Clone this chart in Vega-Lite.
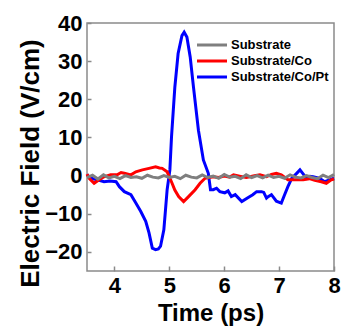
{
  "$schema": "https://vega.github.io/schema/vega-lite/v6.json",
  "width": 247,
  "height": 248,
  "autosize": "none",
  "padding": {"left": 87, "top": 23, "right": 9, "bottom": 58},
  "background": "white",
  "config": {
    "view": {"stroke": "#8a8a8a", "strokeWidth": 1.5},
    "font": "Liberation Sans"
  },
  "datasets": {
    "pt": [
      {"t":3.5,"v":0.3},{"t":3.57,"v":-0.7},{"t":3.69,"v":-1.1},{"t":3.81,"v":-1.6},{"t":3.92,"v":-1.4},{"t":4.03,"v":-1.6},{"t":4.09,"v":-2.9},{"t":4.18,"v":-4.2},{"t":4.3,"v":-5.0},{"t":4.39,"v":-7.2},{"t":4.48,"v":-9.4},{"t":4.57,"v":-12.0},{"t":4.63,"v":-15.0},{"t":4.69,"v":-19.0},{"t":4.75,"v":-19.4},{"t":4.8,"v":-19.2},{"t":4.84,"v":-18.5},{"t":4.9,"v":-14.2},{"t":4.93,"v":-9.0},{"t":4.96,"v":-3.7},{"t":5.01,"v":1.5},{"t":5.04,"v":10.2},{"t":5.1,"v":23.1},{"t":5.16,"v":32.0},{"t":5.23,"v":36.7},{"t":5.27,"v":37.6},{"t":5.32,"v":36.3},{"t":5.38,"v":31.1},{"t":5.44,"v":23.2},{"t":5.53,"v":11.9},{"t":5.62,"v":4.1},{"t":5.71,"v":0.6},{"t":5.75,"v":-3.7},{"t":5.8,"v":-3.7},{"t":5.86,"v":-3.3},{"t":5.92,"v":-4.2},{"t":6.01,"v":-4.5},{"t":6.07,"v":-4.0},{"t":6.13,"v":-5.5},{"t":6.2,"v":-5.0},{"t":6.32,"v":-6.8},{"t":6.43,"v":-5.8},{"t":6.52,"v":-5.0},{"t":6.59,"v":-4.2},{"t":6.68,"v":-4.2},{"t":6.72,"v":-4.4},{"t":6.77,"v":-5.9},{"t":6.8,"v":-5.5},{"t":6.86,"v":-5.0},{"t":6.95,"v":-6.7},{"t":7.04,"v":-7.2},{"t":7.1,"v":-5.0},{"t":7.16,"v":-2.9},{"t":7.23,"v":-0.7},{"t":7.32,"v":0.6},{"t":7.38,"v":1.5},{"t":7.43,"v":0.6},{"t":7.5,"v":-0.7},{"t":7.56,"v":-0.2},{"t":7.62,"v":-0.3},{"t":7.74,"v":-0.7},{"t":7.83,"v":-1.6},{"t":7.92,"v":-1.1},{"t":8.0,"v":-0.7}
    ],
    "co": [
      {"t":3.5,"v":0.4},{"t":3.54,"v":-0.7},{"t":3.63,"v":-2.0},{"t":3.72,"v":-1.1},{"t":3.81,"v":-0.3},{"t":3.93,"v":0.2},{"t":4.05,"v":0.2},{"t":4.12,"v":0.8},{"t":4.18,"v":0.6},{"t":4.3,"v":0.2},{"t":4.39,"v":1.0},{"t":4.51,"v":1.5},{"t":4.63,"v":1.9},{"t":4.75,"v":2.3},{"t":4.82,"v":2.0},{"t":4.87,"v":1.9},{"t":4.96,"v":1.0},{"t":5.05,"v":-2.0},{"t":5.1,"v":-3.8},{"t":5.17,"v":-5.5},{"t":5.26,"v":-6.8},{"t":5.35,"v":-5.5},{"t":5.47,"v":-3.7},{"t":5.56,"v":-2.0},{"t":5.65,"v":-0.7},{"t":5.8,"v":-0.3},{"t":5.9,"v":-0.5},{"t":6.0,"v":-0.1},{"t":6.1,"v":-0.4},{"t":6.17,"v":0.2},{"t":6.3,"v":-0.2},{"t":6.4,"v":-0.5},{"t":6.47,"v":-0.3},{"t":6.55,"v":0.0},{"t":6.65,"v":0.2},{"t":6.77,"v":-0.3},{"t":6.86,"v":0.3},{"t":6.95,"v":0.6},{"t":7.04,"v":0.2},{"t":7.16,"v":-1.1},{"t":7.29,"v":-1.1},{"t":7.44,"v":-1.1},{"t":7.55,"v":-0.8},{"t":7.65,"v":-1.2},{"t":7.77,"v":-1.6},{"t":7.86,"v":-2.0},{"t":7.95,"v":-1.1},{"t":8.0,"v":-0.9}
    ],
    "sub": [
      {"t":3.5,"v":-0.5},{"t":3.6,"v":0.1},{"t":3.7,"v":-0.9},{"t":3.8,"v":0.2},{"t":3.9,"v":-0.6},{"t":4.0,"v":-0.2},{"t":4.1,"v":-0.8},{"t":4.2,"v":0.0},{"t":4.3,"v":-0.5},{"t":4.4,"v":-0.3},{"t":4.5,"v":-0.7},{"t":4.6,"v":0.1},{"t":4.7,"v":-0.4},{"t":4.8,"v":-0.6},{"t":4.9,"v":0.0},{"t":5.0,"v":-0.5},{"t":5.1,"v":-0.2},{"t":5.2,"v":-0.8},{"t":5.3,"v":0.1},{"t":5.4,"v":-0.4},{"t":5.5,"v":-0.6},{"t":5.6,"v":0.2},{"t":5.7,"v":-0.5},{"t":5.8,"v":-0.1},{"t":5.9,"v":-0.7},{"t":6.0,"v":0.3},{"t":6.1,"v":-0.4},{"t":6.2,"v":-0.2},{"t":6.3,"v":-0.8},{"t":6.4,"v":0.2},{"t":6.5,"v":-0.5},{"t":6.6,"v":0.0},{"t":6.7,"v":-0.6},{"t":6.8,"v":0.1},{"t":6.9,"v":-0.5},{"t":7.0,"v":-0.2},{"t":7.1,"v":-0.7},{"t":7.2,"v":0.2},{"t":7.3,"v":-0.4},{"t":7.4,"v":-0.6},{"t":7.5,"v":0.0},{"t":7.6,"v":-0.5},{"t":7.7,"v":-0.8},{"t":7.8,"v":0.1},{"t":7.9,"v":-0.5},{"t":8.0,"v":0.3}
    ]
  },
  "encoding": {
    "x": {
      "field": "t", "type": "quantitative",
      "scale": {"domain": [3.5, 8], "nice": false, "zero": false},
      "axis": {
        "title": "Time (ps)", "values": [4, 5, 6, 7, 8],
        "grid": false, "domain": false,
        "tickSize": -5, "tickColor": "#8a8a8a", "tickWidth": 1.5,
        "labelPadding": 9, "labelFontSize": 22, "labelFontWeight": "bold", "labelColor": "black",
        "labelFont": "Liberation Sans", "labelFlush": false,
        "titleFontSize": 24, "titleFontWeight": "bold", "titleColor": "black", "titleFont": "Liberation Sans",
        "titleY": 49, "titleBaseline": "alphabetic"
      }
    },
    "y": {
      "field": "v", "type": "quantitative",
      "scale": {"domain": [-25, 40], "nice": false, "zero": false},
      "axis": {
        "title": "Electric Field (V/cm)", "values": [-20, -10, 0, 10, 20, 30, 40],
        "grid": false, "domain": false,
        "tickSize": -4, "tickColor": "#8a8a8a", "tickWidth": 1.5,
        "labelPadding": 9, "labelFontSize": 22, "labelFontWeight": "bold", "labelColor": "black",
        "labelFont": "Liberation Sans", "labelFlush": false,
        "titleFontSize": 26, "titleFontWeight": "bold", "titleColor": "black", "titleFont": "Liberation Sans",
        "titleX": -57, "titleY": 140, "titleBaseline": "middle", "titleAlign": "center", "titleAngle": -90
      }
    },
    "color": {
      "field": "s", "type": "nominal",
      "scale": {"domain": ["Substrate", "Substrate/Co", "Substrate/Co/Pt"], "range": ["#7f7f7f", "#ff0000", "#0000ff"]},
      "legend": {
        "title": null, "orient": "none", "legendX": 116, "legendY": 13,
        "symbolType": "M-2,0H2", "symbolSize": 225, "symbolStrokeWidth": 3,
        "labelFontSize": 13, "labelFontWeight": "bold", "labelFont": "Liberation Sans", "labelColor": "black",
        "labelOffset": 10, "rowPadding": 0, "padding": 0
      }
    }
  },
  "layer": [
    {
      "data": {"name": "pt"},
      "mark": {"type": "line", "strokeWidth": 3},
      "encoding": {"color": {"datum": "Substrate/Co/Pt"}}
    },
    {
      "data": {"name": "co"},
      "mark": {"type": "line", "strokeWidth": 3},
      "encoding": {"color": {"datum": "Substrate/Co"}}
    },
    {
      "data": {"name": "sub"},
      "mark": {"type": "line", "strokeWidth": 3},
      "encoding": {"color": {"datum": "Substrate"}}
    }
  ]
}
